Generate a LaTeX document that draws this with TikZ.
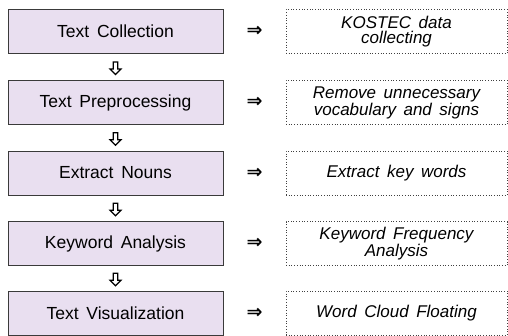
\documentclass[tikz,border=0pt]{standalone}
\usepackage{fontspec}
\setmainfont{Liberation Sans}
\newfontfamily\symfont{DejaVu Sans}
\usetikzlibrary{calc}
\definecolor{boxfill}{HTML}{E9DFF0}
\definecolor{boxline}{HTML}{3A3A3A}
\tikzset{
  stepbox/.style={draw=boxline, line width=0.8pt, fill=boxfill, minimum width=215pt, minimum height=44pt, inner sep=0pt, font=\fontsize{17.5}{19}\selectfont},
  notebox/.style={draw=black!75, dotted, line width=0.7pt, minimum width=221pt, minimum height=44pt, inner sep=0pt, align=center, font=\fontsize{17}{15.5}\selectfont\itshape},
  rarrow/.style={font=\symfont\fontsize{19}{19}\selectfont\bfseries, inner sep=0pt},
  hollowarrow/.style={draw=black, line width=1.2pt, fill=white, line join=miter},
}
\begin{document}
\begin{tikzpicture}[x=1pt,y=1pt]
\useasboundingbox (0,0) rectangle (508,335);
\node[stepbox] (b1) at (115.5,303.5) {Text\ \,Collection};
\node[stepbox] (b2) at (115.5,232.5) {Text\ \,Preprocessing};
\node[stepbox] (b3) at (115.5,162) {Extract\ \,Nouns};
\node[stepbox] (b4) at (115.5,91.5) {Keyword\ \,Analysis};
\node[stepbox] (b5) at (115.5,22) {Text\ \,Visualization};
\node[notebox] (n1) at (396.5,303.5) {KOSTEC\ \,data\\collecting};
\node[notebox] (n2) at (396.5,232.5) {Remove\ \,unnecessary\\vocabulary\ \,and\ \,signs};
\node[notebox] (n3) at (396.5,162) {Extract\ \,key\ \,words};
\node[notebox] (n4) at (396.5,91.5) {Keyword\ \,Frequency\\Analysis};
\node[notebox] (n5) at (396.5,22) {Word\ \,Cloud\ \,Floating};
\foreach \i in {1,...,5}{
  \node[rarrow] (r\i) at ($(b\i.east)!0.5!(n\i.west)$) {⇒};
}
\foreach \i/\j in {1/2,2/3,3/4,4/5}{
  \coordinate (d\i) at ($(b\i.south)!0.5!(b\j.north)+(0,-1.5)$);
  \draw[hollowarrow] ($(d\i)+(-2.2,6.5)$) -- ($(d\i)+(2.2,6.5)$) -- ($(d\i)+(2.2,-0.5)$)
     -- ($(d\i)+(5.5,-0.5)$) -- ($(d\i)+(0,-6)$) -- ($(d\i)+(-5.5,-0.5)$)
     -- ($(d\i)+(-2.2,-0.5)$) -- cycle;
}
\end{tikzpicture}
\end{document}
